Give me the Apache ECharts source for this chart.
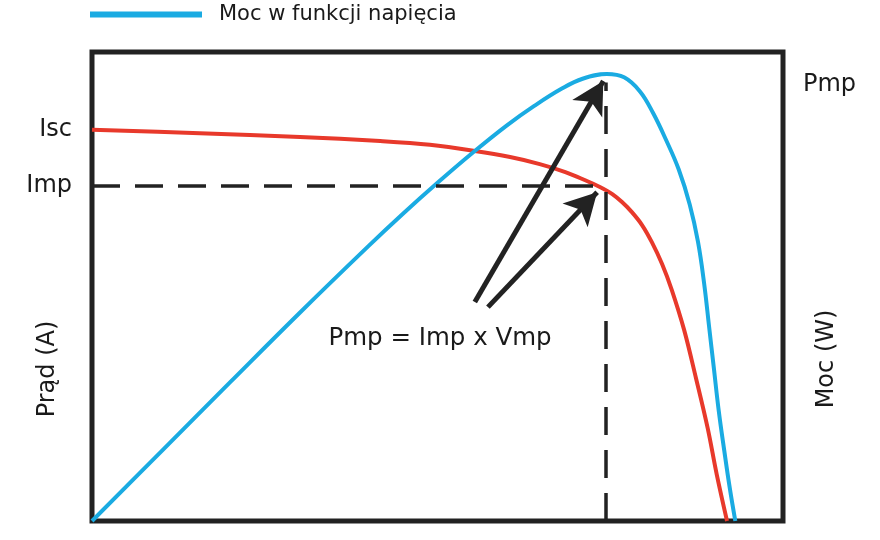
<!DOCTYPE html>
<html>
<head>
<meta charset="utf-8">
<script src="https://cdn.jsdelivr.net/npm/echarts@6/dist/echarts.min.js"></script>
<style>
  html, body { margin: 0; padding: 0; background: #fff; }
  #main { width: 880px; height: 540px; }
</style>
</head>
<body>
<div id="main"></div>
<script>
// P-V curve (blue), normalized voltage / power
const powerV = [0, 10, 20, 30, 40, 45, 50, 55, 60, 64, 68, 71, 74.5, 77.0, 79.3, 81.2, 83.0, 84.9, 86.5, 87.7, 88.6, 89.3, 90.0, 90.7, 91.5, 92.3, 93.1];
const powerW = [0, 14.8, 29.6, 44.3, 58.6, 65.5, 72.1, 78.4, 84.3, 88.5, 92.2, 94.3, 95.3, 94.6, 91.6, 87.0, 81.5, 75.0, 67.5, 59.5, 50.5, 41.5, 32.5, 23.5, 15.0, 7.0, 0];
// I-V curve (red)
const currentV = [0, 15.6, 30.1, 41.7, 48.9, 55.4, 60.5, 64.8, 68.5, 71.3, 73.5, 75.3, 76.7, 78.1, 79.6, 81.0, 82.5, 83.9, 85.7, 87.4, 89.1, 90.4, 91.9];
const currentA = [83.4, 82.7, 81.9, 81.0, 80.2, 78.9, 77.6, 76.1, 74.4, 72.7, 71.2, 69.7, 68.0, 65.9, 63.1, 59.5, 54.8, 49.3, 40.7, 30.5, 19.8, 10.0, 0];

const Isc = 83.4;
const Imp = 71.4;
const Vmp = 74.3;
const tickLabels = { [Isc]: 'Isc', [Imp]: 'Imp' };

// arrows: [tail, tip]
const arrowUpper = [[55.4, 46.7], [74.0, 93.8]];
const arrowLower = [[57.3, 45.6], [73.1, 70.1]];

const zip = (xs, ys) => xs.map((x, i) => [x, ys[i]]);

var chartDom = document.getElementById('main');
var myChart = echarts.init(chartDom);
const FONT = 'DejaVu Sans';

let option = {
  animation: false,
  legend: {
    data: ['Moc w funkcji napięcia'],
    left: 85,
    top: 3,
    padding: [1, 5, 5, 5],
    icon: 'rect',
    itemWidth: 112,
    itemHeight: 6,
    textStyle: { fontFamily: FONT, fontSize: 21, color: '#1a1a1a', padding: [0, 0, 0, 12] }
  },
  grid: {
    left: 92,
    right: 97,
    top: 52,
    bottom: 19,
    show: true,
    borderColor: '#222',
    borderWidth: 5
  },
  xAxis: {
    type: 'value',
    min: 0,
    max: 100,
    axisLine: { show: false },
    axisTick: { show: false },
    axisLabel: { show: false },
    splitLine: { show: false }
  },
  yAxis: {
    type: 'value',
    min: 0,
    max: 100,
    axisLine: { show: false },
    axisTick: { show: false },
    splitLine: { show: false },
    axisLabel: {
      customValues: [Isc, Imp],
      formatter: v => tickLabels[v] || '',
      margin: 20,
      fontFamily: FONT,
      fontSize: 24,
      color: '#1a1a1a'
    }
  },
  graphic: [
    { type: 'text', left: 803, top: 73, style: { text: 'Pmp', font: '24px "DejaVu Sans"', fill: '#1a1a1a' } },
    { type: 'text', x: 48, y: 369, rotation: Math.PI / 2, style: { text: 'Prąd (A)', font: '24px "DejaVu Sans"', fill: '#1a1a1a', align: 'center', verticalAlign: 'middle' } },
    { type: 'text', x: 827, y: 359, rotation: Math.PI / 2, style: { text: 'Moc (W)', font: '24px "DejaVu Sans"', fill: '#1a1a1a', align: 'center', verticalAlign: 'middle' } },
    { type: 'text', x: 440, y: 339, style: { text: 'Pmp = Imp x Vmp', font: '24.5px "DejaVu Sans"', fill: '#1a1a1a', align: 'center', verticalAlign: 'middle' } }
  ],
  series: [
    {
      name: 'Prąd',
      type: 'line',
      data: zip(currentV, currentA),
      smooth: 0.35,
      showSymbol: false,
      lineStyle: { color: '#e8392b', width: 4 },
      itemStyle: { color: '#e8392b' },
      z: 3,
      markLine: {
        silent: true,
        symbol: 'none',
        label: { show: false },
        lineStyle: { color: '#222', width: 3.5, type: [28, 15] },
        data: [
          [{ coord: [0, Imp] }, { coord: [Vmp, Imp] }],
          [{ coord: [Vmp, 0] }, { coord: [Vmp, 93.5] }]
        ]
      }
    },
    {
      name: 'Moc w funkcji napięcia',
      type: 'line',
      data: zip(powerV, powerW),
      smooth: 0.4,
      showSymbol: false,
      lineStyle: { color: '#1aabe2', width: 4 },
      itemStyle: { color: '#1aabe2' },
      z: 4,
      markLine: {
        silent: true,
        symbol: ['none', 'arrow'],
        symbolSize: [26, 32],
        label: { show: false },
        lineStyle: { color: '#222', width: 5, type: 'solid' },
        data: [
          [{ coord: arrowUpper[0] }, { coord: arrowUpper[1] }],
          [{ coord: arrowLower[0] }, { coord: arrowLower[1] }]
        ]
      }
    }
  ]
};

myChart.setOption(option);
</script>
</body>
</html>
